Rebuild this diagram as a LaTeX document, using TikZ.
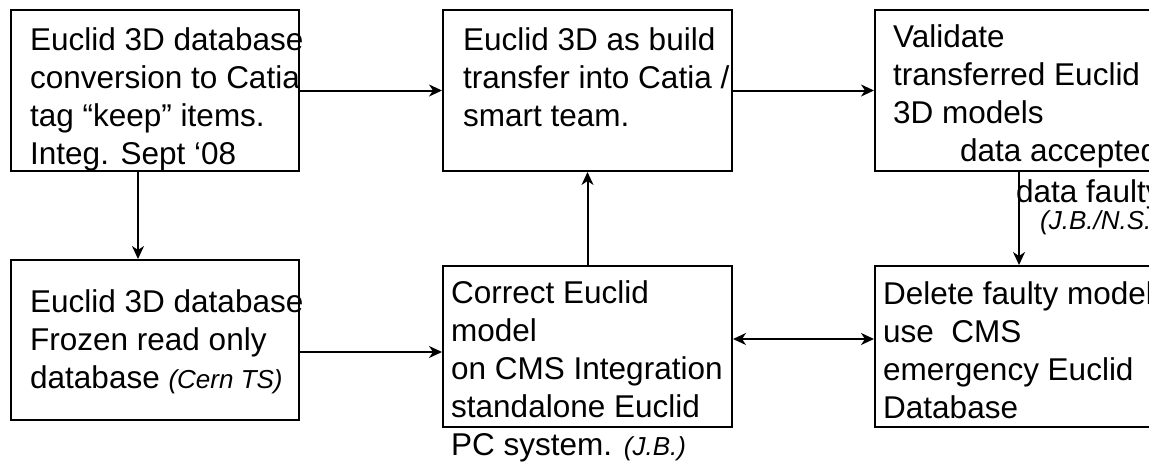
\documentclass[tikz,border=0pt]{standalone}
\usepackage{fontspec}
\setmainfont{Liberation Sans}
\usetikzlibrary{arrows.meta}
\newcommand\smit[1]{{\fontsize{26}{38}\selectfont\itshape #1}}
\begin{document}
\begin{tikzpicture}[x=1pt,y=-1pt,
  >={Stealth[length=13pt,width=12pt,inset=4pt]},
  box/.style={draw, line width=2pt, inner sep=0pt, anchor=north west},
  txt/.style={inner sep=0pt, anchor=base west, font=\fontsize{31.5}{38}\selectfont},
  arr/.style={line width=2pt, ->},
  dblarr/.style={line width=2pt, <->}]
\useasboundingbox (0,0) rectangle (1149,461);
\clip (0,0) rectangle (1149,461);
% boxes
\node[box, minimum width=288pt, minimum height=161pt] (A) at (10,9) {};
\node[box, minimum width=289pt, minimum height=161pt] (B) at (442,9) {};
\node[box, minimum width=300pt, minimum height=161pt] (C) at (874,9) {};
\node[box, minimum width=288pt, minimum height=160pt] (D) at (10,259) {};
\node[box, minimum width=289pt, minimum height=161pt] (E) at (442,265) {};
\node[box, minimum width=300pt, minimum height=161pt] (F) at (874,265) {};
% texts
\node[txt] (tA) at (30,50) {\vtop{\hbox{Euclid 3D database}\hbox{conversion to Catia}\hbox{tag “keep” items.}\hbox{Integ. Sept ‘08}}};
\node[txt] (tB) at (463,50) {\vtop{\hbox{Euclid 3D as build}\hbox{transfer into Catia /}\hbox{smart team.}}};
\node[txt] (tC) at (893,47) {\vtop{\hbox{Validate}\hbox{transferred Euclid}\hbox{3D models}\hbox{\hspace*{67pt}data accepted}}};
\node[txt] (tF1) at (1016,202) {data faulty};
\node[txt] (tF2) at (1040,229) {\smit{(J.B./N.S.)}};
\node[txt] (tD) at (30,312) {\vtop{\hbox{Euclid 3D database}\hbox{Frozen read only}\hbox{database \smit{(Cern TS)}}}};
\node[txt] (tE) at (451,303) {\vtop{\hbox{Correct Euclid}\hbox{model}\hbox{on CMS Integration}\hbox{standalone Euclid}\hbox{PC system. \smit{(J.B.)}}}};
\node[txt] (tFF) at (883,304) {\vtop{\hbox{Delete faulty model}\hbox{use\ \ CMS}\hbox{emergency Euclid}\hbox{Database}}};
% helper coordinates
\coordinate (xAD) at (138,0);
\coordinate (xCF) at (1019,0);
\coordinate (yDE) at (0,352);
\coordinate (yEF) at (0,339);
% connectors
\draw[arr] (A.east) -- (B.west);
\draw[arr] (B.east) -- (C.west);
\draw[arr] (A.south -| xAD) -- (D.north -| xAD);
\draw[arr] (E.north) -- (B.south);
\draw[arr] (C.south -| xCF) -- (F.north -| xCF);
\draw[arr] (D.east |- yDE) -- (E.west |- yDE);
\draw[dblarr] (E.east |- yEF) -- (F.west |- yEF);
\end{tikzpicture}
\end{document}
